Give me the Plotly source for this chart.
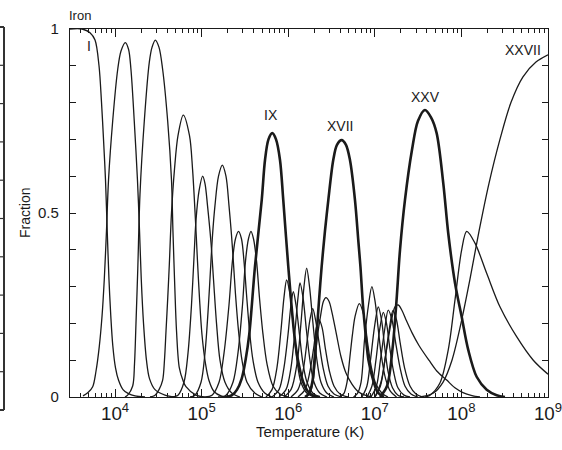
import plotly.graph_objects as go

# Ionization fractions of iron, Fe I .. Fe XXVII, versus log10 temperature (K)
ION_NAMES = ["I", "II", "III", "IV", "V", "VI", "VII", "VIII", "IX", "X",
             "XI", "XII", "XIII", "XIV", "XV", "XVI", "XVII", "XVIII", "XIX",
             "XX", "XXI", "XXII", "XXIII", "XXIV", "XXV", "XXVI", "XXVII"]

FE01_LOGT = [3.480, 3.619, 3.711, 3.769, 3.815, 3.844, 3.867, 3.890, 3.910, 3.930,
             3.951, 3.974, 4.005, 4.040, 4.092, 4.150, 4.231, 4.346]
FE01_FRAC = [1.0, 1.0, 0.99, 0.97, 0.90, 0.80, 0.70, 0.59, 0.45, 0.32,
             0.22, 0.14, 0.08, 0.046, 0.02, 0.01, 0.003, 0.0]

FE02_LOGT = [3.630, 3.688, 3.742, 3.780, 3.818, 3.850, 3.876, 3.901, 3.925, 3.973,
             4.031, 4.069, 4.119, 4.156, 4.184, 4.222, 4.259, 4.283, 4.303, 4.329,
             4.363, 4.398, 4.462, 4.577, 4.692]
FE02_FRAC = [0.003, 0.012, 0.028, 0.07, 0.137, 0.22, 0.32, 0.45, 0.59, 0.75,
             0.89, 0.94, 0.963, 0.945, 0.89, 0.75, 0.59, 0.45, 0.32, 0.20,
             0.10, 0.05, 0.02, 0.005, 0.0]

FE03_LOGT = [4.115, 4.146, 4.204, 4.225, 4.242, 4.263, 4.288, 4.338, 4.396, 4.427,
             4.465, 4.508, 4.550, 4.608, 4.652, 4.669, 4.690, 4.710, 4.742, 4.785,
             4.819, 4.935, 5.039]
FE03_FRAC = [0.0, 0.005, 0.03, 0.09, 0.20, 0.35, 0.55, 0.75, 0.91, 0.95,
             0.97, 0.95, 0.89, 0.75, 0.59, 0.45, 0.30, 0.18, 0.08, 0.045,
             0.028, 0.005, 0.0]

FE04_LOGT = [4.404, 4.462, 4.508, 4.550, 4.571, 4.589, 4.609, 4.627, 4.652, 4.687,
             4.727, 4.788, 4.860, 4.895, 4.929, 4.952, 4.975, 5.004, 5.045, 5.085,
             5.143, 5.224, 5.304]
FE04_FRAC = [0.0, 0.005, 0.02, 0.046, 0.10, 0.18, 0.27, 0.36, 0.50, 0.62,
             0.71, 0.766, 0.71, 0.62, 0.48, 0.37, 0.27, 0.17, 0.09, 0.045,
             0.015, 0.003, 0.0]

FE05_LOGT = [4.658, 4.727, 4.796, 4.843, 4.883, 4.912, 4.935, 4.970, 5.012, 5.039,
             5.068, 5.108, 5.137, 5.172, 5.212, 5.270, 5.351, 5.443]
FE05_FRAC = [0.0, 0.005, 0.04, 0.12, 0.25, 0.38, 0.48, 0.56, 0.60, 0.58,
             0.52, 0.42, 0.32, 0.20, 0.10, 0.04, 0.01, 0.0]

FE06_LOGT = [4.866, 4.923, 4.993, 5.039, 5.079, 5.108, 5.126, 5.154, 5.195, 5.239,
             5.281, 5.316, 5.345, 5.366, 5.391, 5.426, 5.466, 5.524, 5.617, 5.697]
FE06_FRAC = [0.0, 0.005, 0.04, 0.12, 0.25, 0.37, 0.44, 0.52, 0.60, 0.63,
             0.60, 0.52, 0.44, 0.37, 0.28, 0.18, 0.10, 0.04, 0.01, 0.0]

FE07_LOGT = [5.039, 5.120, 5.201, 5.259, 5.316, 5.356, 5.391, 5.426, 5.460, 5.489,
             5.518, 5.553, 5.593, 5.651, 5.732, 5.813]
FE07_FRAC = [0.0, 0.005, 0.04, 0.12, 0.25, 0.37, 0.43, 0.45, 0.43, 0.37,
             0.28, 0.18, 0.10, 0.04, 0.01, 0.0]

FE08_LOGT = [5.189, 5.281, 5.362, 5.420, 5.472, 5.507, 5.541, 5.570, 5.599, 5.634,
             5.668, 5.709, 5.755, 5.824, 5.905, 5.997]
FE08_FRAC = [0.0, 0.005, 0.04, 0.12, 0.25, 0.37, 0.43, 0.45, 0.43, 0.37,
             0.27, 0.17, 0.09, 0.03, 0.008, 0.0]

FE09_LOGT = [5.270, 5.351, 5.409, 5.463, 5.507, 5.550, 5.616, 5.694, 5.732, 5.772,
             5.816, 5.859, 5.905, 5.943, 6.001, 6.070, 6.113, 6.174, 6.228, 6.298, 6.367]
FE09_FRAC = [0.0, 0.005, 0.02, 0.05, 0.10, 0.17, 0.354, 0.535, 0.644, 0.70,
             0.717, 0.70, 0.644, 0.535, 0.354, 0.17, 0.10, 0.04, 0.015, 0.003, 0.0]

FE10_LOGT = [5.743, 5.813, 5.870, 5.916, 5.951, 5.982, 6.020, 6.061, 6.101, 6.147, 6.217, 6.298]
FE10_FRAC = [0.0, 0.02, 0.08, 0.18, 0.27, 0.318, 0.28, 0.19, 0.10, 0.04, 0.01, 0.0]

FE11_LOGT = [5.813, 5.894, 5.951, 5.998, 6.032, 6.059, 6.090, 6.130, 6.171, 6.217, 6.286, 6.367]
FE11_FRAC = [0.0, 0.02, 0.08, 0.17, 0.25, 0.286, 0.25, 0.17, 0.09, 0.04, 0.01, 0.0]

FE12_LOGT = [5.893, 5.974, 6.032, 6.078, 6.113, 6.136, 6.171, 6.211, 6.251, 6.298, 6.367, 6.448]
FE12_FRAC = [0.0, 0.02, 0.08, 0.18, 0.27, 0.31, 0.27, 0.18, 0.10, 0.04, 0.01, 0.0]

FE13_LOGT = [5.951, 6.032, 6.101, 6.147, 6.182, 6.213, 6.246, 6.286, 6.326, 6.378, 6.448, 6.529]
FE13_FRAC = [0.0, 0.02, 0.09, 0.20, 0.30, 0.35, 0.30, 0.20, 0.11, 0.04, 0.01, 0.0]

FE14_LOGT = [6.032, 6.113, 6.171, 6.217, 6.251, 6.283, 6.315, 6.355, 6.402, 6.459, 6.529, 6.621]
FE14_FRAC = [0.0, 0.02, 0.07, 0.15, 0.21, 0.24, 0.21, 0.15, 0.08, 0.03, 0.008, 0.0]

FE15_LOGT = [6.113, 6.194, 6.251, 6.298, 6.326, 6.355, 6.390, 6.430, 6.476, 6.528, 6.598, 6.690]
FE15_FRAC = [0.0, 0.02, 0.07, 0.14, 0.19, 0.21, 0.19, 0.13, 0.07, 0.03, 0.008, 0.0]

FE16_LOGT = [6.205, 6.251, 6.286, 6.309, 6.332, 6.373, 6.407, 6.436, 6.471, 6.505,
             6.557, 6.609, 6.667, 6.736, 6.806, 6.886, 6.967]
FE16_FRAC = [0.0, 0.01, 0.04, 0.09, 0.155, 0.22, 0.26, 0.27, 0.26, 0.23,
             0.17, 0.11, 0.065, 0.035, 0.015, 0.005, 0.0]

FE17_LOGT = [6.194, 6.240, 6.278, 6.303, 6.329, 6.355, 6.386, 6.424, 6.463, 6.520,
             6.563, 6.617, 6.667, 6.713, 6.771, 6.811, 6.834, 6.863, 6.898, 6.927,
             6.982, 7.036, 7.106]
FE17_FRAC = [0.0, 0.01, 0.04, 0.10, 0.174, 0.26, 0.354, 0.45, 0.535, 0.644,
             0.685, 0.698, 0.685, 0.644, 0.535, 0.42, 0.354, 0.25, 0.16, 0.10,
             0.045, 0.012, 0.0]

FE18_LOGT = [6.598, 6.644, 6.679, 6.713, 6.742, 6.771, 6.821, 6.875, 6.915, 6.961, 7.013, 7.083, 7.152]
FE18_FRAC = [0.0, 0.01, 0.04, 0.11, 0.17, 0.218, 0.254, 0.22, 0.15, 0.08, 0.035, 0.01, 0.0]

FE19_LOGT = [6.754, 6.800, 6.841, 6.881, 6.927, 6.966, 7.003, 7.037, 7.077, 7.124, 7.181, 7.251]
FE19_FRAC = [0.0, 0.01, 0.04, 0.155, 0.25, 0.30, 0.26, 0.19, 0.11, 0.05, 0.015, 0.0]

FE20_LOGT = [6.852, 6.909, 6.950, 6.996, 7.040, 7.077, 7.112, 7.152, 7.204, 7.267, 7.337]
FE20_FRAC = [0.0, 0.03, 0.10, 0.19, 0.245, 0.21, 0.14, 0.07, 0.025, 0.005, 0.0]

FE21_LOGT = [6.909, 6.967, 7.013, 7.054, 7.098, 7.135, 7.175, 7.216, 7.267, 7.337, 7.406]
FE21_FRAC = [0.0, 0.03, 0.10, 0.18, 0.23, 0.20, 0.13, 0.07, 0.025, 0.005, 0.0]

FE22_LOGT = [6.955, 7.019, 7.065, 7.112, 7.155, 7.198, 7.239, 7.291, 7.348, 7.418, 7.498]
FE22_FRAC = [0.0, 0.03, 0.10, 0.18, 0.236, 0.21, 0.15, 0.08, 0.03, 0.008, 0.0]

FE23_LOGT = [7.002, 7.065, 7.117, 7.164, 7.210, 7.250, 7.291, 7.343, 7.406, 7.475, 7.556]
FE23_FRAC = [0.0, 0.03, 0.10, 0.18, 0.235, 0.21, 0.15, 0.08, 0.03, 0.008, 0.0]

FE24_LOGT = [7.002, 7.071, 7.129, 7.187, 7.233, 7.271, 7.314, 7.360, 7.429, 7.510,
             7.625, 7.718, 7.830, 7.925, 8.018, 8.122, 8.214]
FE24_FRAC = [0.0, 0.04, 0.12, 0.20, 0.245, 0.25, 0.235, 0.21, 0.175, 0.14,
             0.10, 0.07, 0.046, 0.025, 0.012, 0.004, 0.0]

FE25_LOGT = [7.060, 7.141, 7.204, 7.250, 7.291, 7.348, 7.429, 7.498, 7.579, 7.649,
             7.714, 7.791, 7.848, 7.926, 8.003, 8.079, 8.176, 8.292, 8.407, 8.503]
FE25_FRAC = [0.0, 0.03, 0.13, 0.26, 0.40, 0.535, 0.671, 0.75, 0.78, 0.76,
             0.717, 0.58, 0.445, 0.31, 0.218, 0.128, 0.055, 0.02, 0.005, 0.0]

FE26_LOGT = [7.579, 7.637, 7.752, 7.848, 7.926, 8.003, 8.061, 8.157, 8.292, 8.445, 8.638, 8.830, 9.0]
FE26_FRAC = [0.0, 0.005, 0.038, 0.128, 0.264, 0.40, 0.45, 0.418, 0.336, 0.245, 0.164, 0.10, 0.062]

FE27_LOGT = [7.522, 7.672, 7.787, 7.891, 7.995, 8.099, 8.203, 8.318, 8.445, 8.572, 8.711, 8.861, 9.0]
FE27_FRAC = [0.0, 0.01, 0.04, 0.10, 0.20, 0.32, 0.45, 0.58, 0.70, 0.80, 0.87, 0.91, 0.93]

CURVES = [
    (FE01_LOGT, FE01_FRAC), (FE02_LOGT, FE02_FRAC), (FE03_LOGT, FE03_FRAC),
    (FE04_LOGT, FE04_FRAC), (FE05_LOGT, FE05_FRAC), (FE06_LOGT, FE06_FRAC),
    (FE07_LOGT, FE07_FRAC), (FE08_LOGT, FE08_FRAC), (FE09_LOGT, FE09_FRAC),
    (FE10_LOGT, FE10_FRAC), (FE11_LOGT, FE11_FRAC), (FE12_LOGT, FE12_FRAC),
    (FE13_LOGT, FE13_FRAC), (FE14_LOGT, FE14_FRAC), (FE15_LOGT, FE15_FRAC),
    (FE16_LOGT, FE16_FRAC), (FE17_LOGT, FE17_FRAC), (FE18_LOGT, FE18_FRAC),
    (FE19_LOGT, FE19_FRAC), (FE20_LOGT, FE20_FRAC), (FE21_LOGT, FE21_FRAC),
    (FE22_LOGT, FE22_FRAC), (FE23_LOGT, FE23_FRAC), (FE24_LOGT, FE24_FRAC),
    (FE25_LOGT, FE25_FRAC), (FE26_LOGT, FE26_FRAC), (FE27_LOGT, FE27_FRAC),
]

# ions drawn with a heavier line and labelled above their peak
HIGHLIGHT = {"IX", "XVII", "XXV"}
LABELLED = ["I", "IX", "XVII", "XXV", "XXVII"]

FONT = "Liberation Sans, Arial, sans-serif"
INK = "#1a1a1a"

fig = go.Figure()
for name, (logt, frac) in zip(ION_NAMES, CURVES):
    fig.add_trace(go.Scatter(
        x=[10 ** v for v in logt], y=frac, mode="lines", name="Fe " + name,
        line=dict(color=INK, width=2.6 if name in HIGHLIGHT else 1.3,
                  shape="spline", smoothing=0.9),
        hoverinfo="name", showlegend=False,
    ))

# ion labels (paper coordinates)
label_pos = {"I": (0.040, 0.954), "IX": (0.421, 0.766), "XVII": (0.565, 0.736),
             "XXV": (0.743, 0.815), "XXVII": (0.948, 0.943)}
annotations = []
for name in LABELLED:
    lx, ly = label_pos[name]
    annotations.append(dict(x=lx, y=ly, xref="paper", yref="paper", text=name,
                            xanchor="center", yanchor="middle", showarrow=False,
                            font=dict(size=14, color=INK, family=FONT)))
annotations += [
    dict(x=-0.006, y=1.038, xref="paper", yref="paper", text="Iron",
         xanchor="left", yanchor="middle", showarrow=False,
         font=dict(size=13, color=INK, family=FONT)),
    dict(x=-0.094, y=0.5, xref="paper", yref="paper", text="Fraction", textangle=-90,
         xanchor="center", yanchor="middle", showarrow=False,
         font=dict(size=14, color=INK, family=FONT)),
    dict(x=0.502, y=-0.095, xref="paper", yref="paper", text="Temperature (K)",
         xanchor="center", yanchor="middle", showarrow=False,
         font=dict(size=15, color=INK, family=FONT)),
]

# edge of the neighbouring panel at the far left
shapes = []
PX0, PW, PY0, PH = 70.0, 478.0, 397.0, 368.0
def px(xp):
    return (xp - PX0) / PW
def py(yp):
    return (PY0 - yp) / PH
edge = dict(color="#333333", width=2)
shapes.append(dict(type="line", xref="paper", yref="paper", x0=px(4), x1=px(4),
                   y0=py(27), y1=py(410), line=edge))
for yy in (27, 410):
    shapes.append(dict(type="line", xref="paper", yref="paper", x0=px(-2), x1=px(4),
                       y0=py(yy), y1=py(yy), line=edge))
for k in range(1, 10):
    yy = 27 + k * 38.3
    shapes.append(dict(type="line", xref="paper", yref="paper", x0=px(0), x1=px(4),
                       y0=py(yy), y1=py(yy), line=dict(color="#333333", width=1.2)))

fig.update_layout(
    width=562, height=450,
    margin=dict(l=70, r=14, t=29, b=53, autoexpand=False),
    paper_bgcolor="white", plot_bgcolor="white",
    font=dict(family=FONT, size=14, color=INK),
    showlegend=False,
    annotations=annotations,
    shapes=shapes,
    xaxis=dict(type="log", range=[3.48, 9.0], dtick=1, exponentformat="power",
               automargin=False, ticklabeloverflow="allow",
               showgrid=False, zeroline=False, showline=True, linecolor=INK,
               linewidth=1.4, mirror="ticks", ticks="inside", ticklen=8,
               tickwidth=1.2, tickcolor=INK,
               tickfont=dict(size=15, color=INK, family=FONT),
               minor=dict(ticks="inside", ticklen=4, tickwidth=1, tickcolor=INK,
                          dtick="D1", showgrid=False)),
    yaxis=dict(range=[0, 1], tickvals=[0, 0.5, 1], ticktext=["0", "0.5", "1"],
               automargin=False, ticklabeloverflow="allow",
               showgrid=False, zeroline=False, showline=True, linecolor=INK,
               linewidth=1.4, mirror="ticks", ticks="inside", ticklen=6,
               tickwidth=1.2, tickcolor=INK, ticklabelstandoff=7,
               tickfont=dict(size=15, color=INK, family=FONT),
               minor=dict(ticks="inside", ticklen=6, tickwidth=1, tickcolor=INK,
                          dtick=0.1, showgrid=False)),
)

fig.write_html("out.html")
